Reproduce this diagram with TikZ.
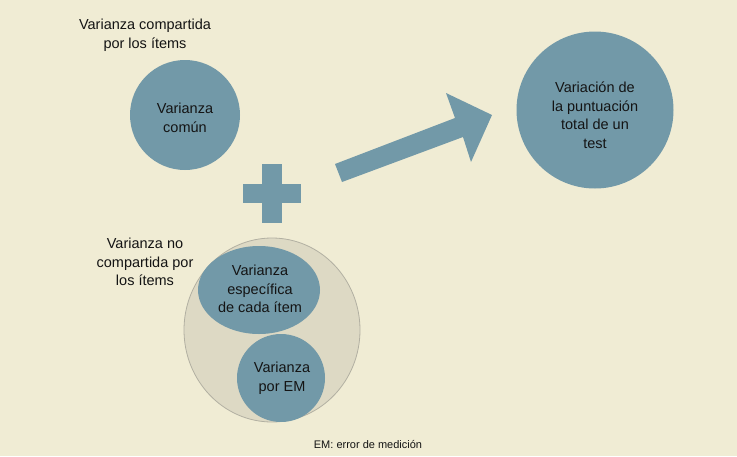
\documentclass[tikz,border=0pt]{standalone}
\usepackage{fontspec}
\setmainfont{Liberation Sans}
\usetikzlibrary{shapes.geometric}
\definecolor{bg}{RGB}{240,236,212}
\definecolor{blu}{RGB}{114,153,168}
\definecolor{gfill}{RGB}{221,217,196}
\definecolor{gline}{RGB}{178,176,162}
\definecolor{txt}{RGB}{20,20,20}
\tikzset{
  bluecirc/.style={circle,fill=blu,draw=none,inner sep=0pt,align=center,text=txt,font=\fontsize{14.5}{18.5}\selectfont},
  lbl/.style={align=center,text=txt,font=\fontsize{14.5}{18.5}\selectfont,inner sep=0pt},
}
\begin{document}
\begin{tikzpicture}[x=1pt,y=-1pt]
\fill[bg] (0,0) rectangle (737,456);
\useasboundingbox (0,0) rectangle (737,456);
% titles
\node[lbl] (t1) at (145,35) {Varianza compartida\\por los ítems};
\node[lbl] (t2) at (145,262) {Varianza no\\compartida por\\los ítems};
% common variance
\node[bluecirc,minimum size=110pt] (comun) at (185,115) {};
\node[lbl] (comunt) at (185,118) {Varianza\\común};
% total
\node[bluecirc,minimum size=157pt] (total) at (595,110) {};
\node[lbl] (totalt) at (595,115) {Variación de\\la puntuación\\total de un\\test};
% plus
\fill[blu] (262,164) rectangle (282,223);
\fill[blu] (243,184) rectangle (301,203);
% big arrow
\fill[blu] (335,164) -- (455,118) -- (446,93) -- (492,115) -- (471,162) -- (463,137) -- (342,182) -- cycle;
% big grey circle
\node[ellipse,fill=gfill,draw=gline,line width=0.8pt,minimum width=176pt,minimum height=184pt,inner sep=0pt] (big) at (272,330) {};
\node[bluecirc,ellipse,minimum width=122pt,minimum height=88pt] (esp) at (259,290) {};
\node[lbl] (espt) at (260,289) {Varianza\\específica\\de cada ítem};
\node[bluecirc,minimum size=88pt] (em) at (281,378) {};
\node[lbl] (emt) at (282,378) {Varianza\\por EM};
\node[lbl,font=\fontsize{11}{13}\selectfont] (foot) at (368,444) {EM: error de medición};
\end{tikzpicture}
\end{document}
